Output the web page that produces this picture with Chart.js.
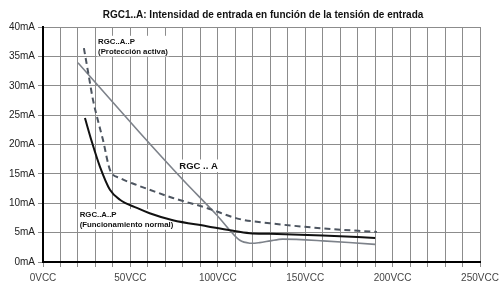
<!DOCTYPE html>
<html>
<head>
<meta charset="utf-8">
<script src="https://cdn.jsdelivr.net/npm/chart.js@4.4.1/dist/chart.umd.min.js"></script>
<style>
  html, body { margin: 0; padding: 0; background: #fff; }
  #wrap { width: 500px; height: 282px; }
</style>
</head>
<body>
<div id="wrap"><canvas id="chart" width="500" height="282"></canvas></div>
<script>
// values (volts, mA)
const voltNormal = [24, 28, 32.6, 38.3, 44, 53.7, 61, 74.3, 93.7, 106.9, 118.3, 129.7, 160, 190];
const currNormal = [24.5, 20.4, 16.2, 12.3, 10.6, 9.2, 8.3, 7.1, 6.1, 5.4, 4.9, 4.8, 4.5, 4.1];

const voltActive = [23.4, 26, 28.6, 31.5, 34.3, 38.3, 44, 53.7, 61, 74.3, 93.7, 112.6, 129.7, 157, 191];
const currActive = [36.4, 32, 27.6, 24, 20.8, 15.7, 14.3, 13.1, 12.3, 10.9, 9.2, 7.3, 6.6, 5.8, 5.1];

const voltA = [20, 55.4, 80, 99.4, 106.9, 112.6, 118.3, 124, 130, 137, 160, 190];
const currA = [33.9, 22.0, 14.0, 8.0, 5.4, 3.7, 3.2, 3.3, 3.6, 3.9, 3.6, 3.0];

const titleText = 'RGC1..A: Intensidad de entrada en función de la tensión de entrada';

const toPoints = (xs, ys) => xs.map((x, i) => ({ x: x, y: ys[i] }));

const FONT = '"Liberation Sans", Arial, sans-serif';

// title and the curve labels (boxes go under the curves)
const labelPlugin = {
  id: 'labels',
  beforeDatasetsDraw(chart) {
    const ctx = chart.ctx;
    const xs = chart.scales.x;
    const ys = chart.scales.y;
    ctx.save();
    ctx.fillStyle = '#111';
    ctx.textBaseline = 'middle';
    ctx.textAlign = 'center';
    ctx.font = 'bold 10px ' + FONT;
    ctx.fillText(titleText, 263, 15);

    ctx.textAlign = 'left';
    const boxText = (lines, vx, vy, size) => {
      ctx.font = 'bold ' + size + 'px ' + FONT;
      const px = xs.getPixelForValue(vx);
      const py = ys.getPixelForValue(vy);
      let w = 0;
      lines.forEach(l => { w = Math.max(w, ctx.measureText(l).width); });
      const lh = size + 2;
      ctx.fillStyle = '#fff';
      ctx.fillRect(px - 1, py - lh / 2 - 1, w + 2, lh * lines.length + 1);
      ctx.fillStyle = '#111';
      lines.forEach((l, i) => ctx.fillText(l, px, py + i * lh));
    };
    boxText(['RGC..A..P', '(Protección activa)'], 31.5, 37.5, 7.8);
    boxText(['RGC..A..P', '(Funcionamiento normal)'], 21, 8, 7.8);
    boxText(['RGC .. A'], 78, 16.3, 9.5);
    ctx.restore();
  }
};

new Chart(document.getElementById('chart'), {
  type: 'line',
  data: {
    datasets: [
      {
        label: 'RGC..A..P (Funcionamiento normal)',
        data: toPoints(voltNormal, currNormal),
        borderColor: '#111',
        borderWidth: 2,
        pointRadius: 0,
        cubicInterpolationMode: 'monotone'
      },
      {
        label: 'RGC..A..P (Protección activa)',
        data: toPoints(voltActive, currActive),
        borderColor: '#4d5560',
        borderWidth: 2,
        borderDash: [6, 4],
        pointRadius: 0,
        cubicInterpolationMode: 'monotone'
      },
      {
        label: 'RGC .. A',
        data: toPoints(voltA, currA),
        borderColor: '#7d828a',
        borderWidth: 1.6,
        pointRadius: 0,
        tension: 0.3
      }
    ]
  },
  options: {
    responsive: false,
    animation: false,
    layout: { padding: { top: 27, right: 20, left: 0, bottom: 0 } },
    plugins: {
      legend: { display: false },
      tooltip: { enabled: false }
    },
    scales: {
      x: {
        type: 'linear',
        min: 0,
        max: 250,
        afterFit: (s) => { s.height = 20; },
        ticks: {
          stepSize: 10,
          autoSkip: false,
          maxRotation: 0,
          padding: 0,
          color: '#444',
          // tall line box pushes the labels down without widening the side padding
          font: { family: FONT, size: 10, lineHeight: 2.2 },
          callback: (v) => (v % 50 === 0 ? v + 'VCC' : '')
        },
        grid: { color: '#8c8c8c', lineWidth: 1, drawTicks: true, tickLength: 5 },
        border: { color: '#000', width: 2 }
      },
      y: {
        min: 0,
        max: 40,
        afterFit: (s) => { s.width = 43; },
        ticks: {
          stepSize: 5,
          padding: 3,
          color: '#222',
          font: { family: FONT, size: 10 },
          callback: (v) => v + 'mA'
        },
        grid: { color: '#8c8c8c', lineWidth: 1, drawTicks: true, tickLength: 5 },
        border: { color: '#000', width: 2 }
      }
    }
  },
  plugins: [labelPlugin]
});
</script>
</body>
</html>
